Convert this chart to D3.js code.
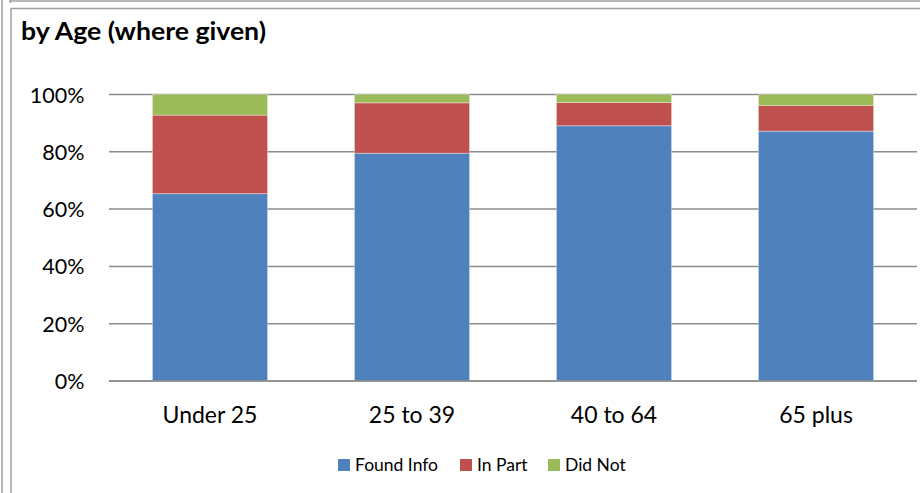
<!DOCTYPE html>
<html>
<head>
<meta charset="utf-8">
<script src="https://cdn.jsdelivr.net/npm/d3@7"></script>
<style>
  html, body { margin: 0; padding: 0; background: #fff; }
  svg { display: block; }
  text { font-family: Lato, "Open Sans", sans-serif; fill: #000; }
</style>
</head>
<body>
<svg id="chart" width="920" height="493"></svg>
<script>
const categories = ["Under 25", "25 to 39", "40 to 64", "65 plus"];
const seriesNames = ["Found Info", "In Part", "Did Not"];
const foundInfo = [65.4, 79.5, 89.1, 87.2];
const inPart = [27.4, 17.6, 8.1, 9.0];
const didNot = [7.2, 2.9, 2.8, 3.8];
const yTicks = [0, 20, 40, 60, 80, 100];
const colors = ["#4F81BD", "#C0504D", "#9BBB59"];
const title = "by Age (where given)";

const svg = d3.select("#chart");
const W = 920, H = 493;

// frame lines
const frame = svg.append("g").attr("fill", "none").attr("stroke", "#a0a0a0").attr("stroke-width", 1.5);
frame.append("line").attr("x1", 2).attr("y1", 0).attr("x2", 2).attr("y2", H);
frame.append("line").attr("x1", 9).attr("y1", 1).attr("x2", W).attr("y2", 1);
frame.append("line").attr("x1", 10.5).attr("y1", 0).attr("x2", 10.5).attr("y2", 3);
frame.append("path").attr("d", `M11,${H} L11,8.5 L${W},8.5`);

// title
svg.append("text")
  .attr("x", 21).attr("y", 40)
  .attr("font-size", 25).attr("font-weight", "bold")
  .attr("textLength", 245).attr("lengthAdjust", "spacingAndGlyphs")
  .text(title);

const x = d3.scaleBand().domain(categories).range([109, 917]).paddingInner(0.43).paddingOuter(0.215);
const y = d3.scaleLinear().domain([0, 100]).range([381, 94.5]);

// gridlines
svg.append("g").selectAll("line").data(yTicks).join("line")
  .attr("x1", 109).attr("x2", 917)
  .attr("y1", d => y(d)).attr("y2", d => y(d))
  .attr("stroke", "#8c8c8c").attr("stroke-width", 1.5);

// stacked data
const rows = categories.map((c, i) => ({ cat: c, "Found Info": foundInfo[i], "In Part": inPart[i], "Did Not": didNot[i] }));
const stack = d3.stack().keys(seriesNames)(rows);

svg.append("g").selectAll("g").data(stack).join("g")
  .attr("fill", (d, i) => colors[i])
  .selectAll("rect").data(d => d).join("rect")
  .attr("x", d => x(d.data.cat))
  .attr("width", x.bandwidth())
  .attr("y", d => y(d[1]))
  .attr("height", d => y(d[0]) - y(d[1]))
  .attr("stroke", "rgba(255,255,255,0.35)").attr("stroke-width", 1);

// y axis labels
const yAxis = d3.axisLeft(y).tickValues(yTicks).tickFormat(d => d + "%").tickSize(0).tickPadding(0);
const gy = svg.append("g").attr("transform", "translate(84.5,0)").call(yAxis);
gy.select(".domain").remove();
gy.selectAll("text").attr("font-size", 21.5).attr("font-family", "Lato, sans-serif").attr("fill", "#000").attr("dy", "0.35em");

// x axis labels
const xAxis = d3.axisBottom(x).tickSize(0).tickPadding(0);
const gx = svg.append("g").attr("transform", "translate(0,381)").call(xAxis);
gx.select(".domain").remove();
gx.selectAll("text").attr("font-size", 23).attr("font-family", "Lato, sans-serif").attr("fill", "#000").attr("dy", null).attr("y", 42);

// baseline axis
svg.append("line").attr("x1", 109).attr("x2", 917).attr("y1", y(0)).attr("y2", y(0))
  .attr("stroke", "#8c8c8c").attr("stroke-width", 1.5);

// legend
const legendX = [338, 460, 548];
const lg = svg.append("g").selectAll("g").data(seriesNames).join("g")
  .attr("transform", (d, i) => `translate(${legendX[i]},459)`);
lg.append("rect").attr("width", 12).attr("height", 12).attr("fill", (d, i) => colors[i]);
lg.append("text").attr("x", 17).attr("y", 12).attr("font-size", 17.5).text(d => d);
</script>
</body>
</html>
